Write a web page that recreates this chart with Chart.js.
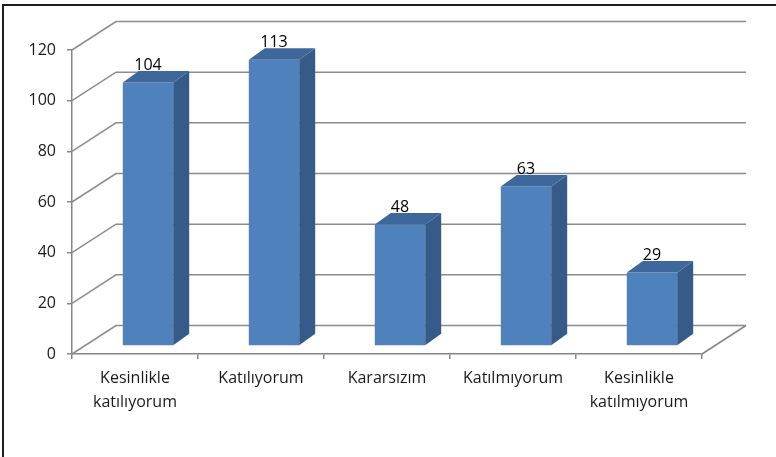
<!DOCTYPE html>
<html>
<head>
<meta charset="utf-8">
<script src="https://cdn.jsdelivr.net/npm/chart.js@4/dist/chart.umd.min.js"></script>
<style>
  html, body { margin: 0; padding: 0; background: #fff; }
  #wrap { width: 776px; height: 457px; position: relative; }
</style>
</head>
<body>
<div id="wrap"><canvas id="c" width="776" height="457"></canvas></div>
<script>
// Survey responses per answer option
const categories = [
  ['Kesinlikle', 'katılıyorum'],
  'Katılıyorum',
  'Kararsızım',
  'Katılmıyorum',
  ['Kesinlikle', 'katılmıyorum']
];
const responses = [104, 113, 48, 63, 29];
const yMin = 0;
const yMax = 120;
const yStep = 20;

// 3D look: wall depth, where the bars sit inside the box, and each bar's own depth
const wallDepth = { dx: 44, dy: -28.5 };
const barShift = { dx: 13, dy: -8 };
const barDepth = { dx: 16, dy: -11.5 };

const FONT = 'Open Sans';
const GRID = '#8c8c8c';
const AXIS = '#868686';
const FACE = '#4f81bd';
const SIDE = '#375b89';
const TOP = '#3e679b';

const scene3d = {
  id: 'scene3d',
  beforeDraw(chart) {
    const ctx = chart.ctx;
    ctx.save();
    ctx.fillStyle = '#fff';
    ctx.fillRect(0, 0, chart.width, chart.height);
    // frame around the figure
    ctx.strokeStyle = '#1e1e1e';
    ctx.lineWidth = 2;
    ctx.beginPath();
    ctx.moveTo(3, chart.height);
    ctx.lineTo(3, 5);
    ctx.lineTo(chart.width, 5);
    ctx.stroke();
    ctx.restore();
  },
  beforeDatasetsDraw(chart) {
    const ctx = chart.ctx;
    const y = chart.scales.y;
    const area = chart.chartArea;
    ctx.save();
    ctx.strokeStyle = GRID;
    ctx.lineWidth = 1.5;
    for (let v = yMin; v <= yMax; v += yStep) {
      const py = y.getPixelForValue(v);
      ctx.beginPath();
      // side wall diagonal
      ctx.moveTo(area.left, py);
      ctx.lineTo(area.left + wallDepth.dx, py + wallDepth.dy);
      // back wall line
      ctx.lineTo(area.right + wallDepth.dx, py + wallDepth.dy);
      ctx.stroke();
    }
    // floor right edge
    const base = y.getPixelForValue(yMin);
    ctx.strokeStyle = AXIS;
    ctx.beginPath();
    ctx.moveTo(area.right, base);
    ctx.lineTo(area.right + wallDepth.dx, base + wallDepth.dy);
    ctx.stroke();
    ctx.restore();

    // front faces are drawn by Chart.js, pushed into the box
    ctx.save();
    ctx.translate(barShift.dx, barShift.dy);
  },
  afterDatasetsDraw(chart) {
    const ctx = chart.ctx;
    ctx.restore();
    const meta = chart.getDatasetMeta(0);
    ctx.save();
    meta.data.forEach((el, i) => {
      const x0 = el.x - el.width / 2 + barShift.dx;
      const x1 = el.x + el.width / 2 + barShift.dx;
      const yt = el.y + barShift.dy;
      const yb = el.base + barShift.dy;
      // right side
      ctx.fillStyle = SIDE;
      ctx.beginPath();
      ctx.moveTo(x1, yt);
      ctx.lineTo(x1 + barDepth.dx, yt + barDepth.dy);
      ctx.lineTo(x1 + barDepth.dx, yb + barDepth.dy);
      ctx.lineTo(x1, yb);
      ctx.closePath();
      ctx.fill();
      // top
      ctx.fillStyle = TOP;
      ctx.beginPath();
      ctx.moveTo(x0, yt);
      ctx.lineTo(x0 + barDepth.dx, yt + barDepth.dy);
      ctx.lineTo(x1 + barDepth.dx, yt + barDepth.dy);
      ctx.lineTo(x1, yt);
      ctx.closePath();
      ctx.fill();
      // value label
      ctx.fillStyle = '#000';
      ctx.font = '16px "' + FONT + '"';
      ctx.textAlign = 'center';
      ctx.textBaseline = 'alphabetic';
      ctx.fillText(String(responses[i]), (x0 + x1) / 2, yt + barDepth.dy - 1);
    });
    ctx.restore();
  }
};

new Chart(document.getElementById('c'), {
  type: 'bar',
  data: {
    labels: categories,
    datasets: [{
      data: responses,
      backgroundColor: FACE,
      borderWidth: 0,
      categoryPercentage: 1,
      barPercentage: 0.4
    }]
  },
  options: {
    responsive: false,
    animation: false,
    devicePixelRatio: 1,
    layout: { padding: { left: 0, top: 50, right: 74, bottom: 0 } },
    plugins: { legend: { display: false }, tooltip: { enabled: false } },
    scales: {
      x: {
        grid: { offset: true, drawOnChartArea: false, tickLength: 5, color: AXIS, lineWidth: 1.5 },
        border: { color: AXIS, width: 1.5 },
        ticks: {
          font: { family: FONT, size: 16, lineHeight: 1.5 },
          color: '#1a1a1a',
          padding: 7,
          maxRotation: 0,
          autoSkip: false
        },
        afterFit(s) { s.height = 103; }
      },
      y: {
        min: yMin,
        max: yMax,
        grid: { drawOnChartArea: false, tickLength: 5, color: AXIS, lineWidth: 1.5 },
        border: { color: AXIS, width: 1.5 },
        ticks: {
          stepSize: yStep,
          font: { family: FONT, size: 16 },
          color: '#1a1a1a',
          padding: 11
        },
        afterFit(s) { s.width = 72; }
      }
    }
  },
  plugins: [scene3d]
});
</script>
</body>
</html>
